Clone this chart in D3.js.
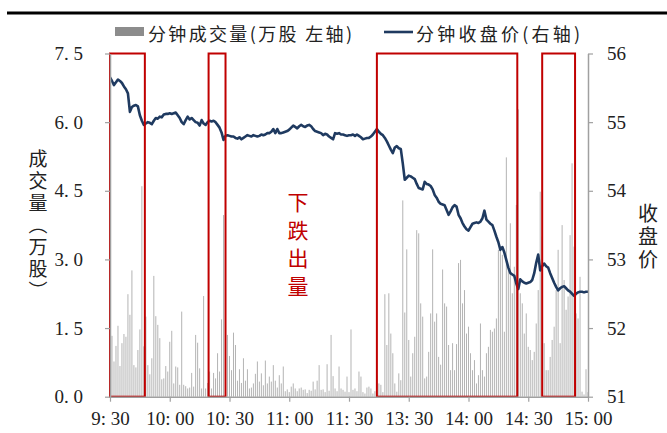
<!DOCTYPE html>
<html>
<head>
<meta charset="utf-8">
<script src="https://cdn.jsdelivr.net/npm/d3@7"></script>
<style>
  body { margin: 0; background: #fff; }
  svg { display: block; }
</style>
</head>
<body>
<svg id="chart" width="667" height="433"></svg>
<script>
// minute volume (万股), one value per trading minute, 9:30 .. 15:00
const volume = [
  1.35, 1.33, 0.77, 1.11, 1.55, 0.67, 1.17, 1.37, 1.31, 2.24,
  1.79, 2.76, 0.69, 0.64, 1.02, 1.47, 4.60, 1.10, 1.75, 0.69,
  0.49, 0.84, 2.64, 1.76, 1.57, 1.28, 0.38, 0.40, 0.67, 0.55,
  1.20, 1.44, 0.29, 0.66, 0.64, 0.26, 1.86, 0.26, 0.23, 0.18,
  0.20, 0.52, 0.22, 1.35, 1.18, 0.62, 0.18, 2.20, 0.18, 0.30,
  0.55, 0.18, 0.52, 0.40, 0.95, 0.55, 1.69, 3.97, 0.60, 1.35,
  0.89, 0.58, 1.40, 1.13, 0.35, 0.60, 0.30, 0.84, 0.35, 0.60,
  0.18, 0.20, 0.29, 0.50, 0.77, 0.33, 0.51, 0.25, 0.79, 0.29,
  0.44, 0.33, 0.69, 0.35, 0.20, 0.47, 0.29, 0.66, 0.12, 0.16,
  0.10, 0.22, 0.29, 0.18, 0.12, 0.18, 0.20, 0.15, 0.16, 0.08,
  0.15, 0.13, 0.33, 0.16, 0.35, 0.69, 0.15, 0.16, 0.10, 0.71,
  0.13, 1.35, 0.45, 0.18, 0.12, 0.66, 0.18, 0.15, 0.11, 0.44,
  0.10, 1.47, 0.15, 0.18, 0.12, 0.55, 0.44, 0.10, 0.07, 0.20,
  0.22, 0.18, 0.07, 0.12, 0.47, 0.29, 0.26, 0.10, 2.24, 1.13,
  2.26, 1.38, 0.95, 0.29, 0.11, 0.51, 0.36, 4.29, 1.84, 3.22,
  1.24, 0.44, 0.95, 1.31, 3.64, 3.57, 2.04, 1.75, 0.40, 0.44,
  0.98, 1.82, 3.22, 1.64, 1.82, 0.87, 0.70, 2.78, 2.04, 1.97,
  1.13, 0.58, 1.17, 0.58, 1.15, 2.92, 2.99, 2.04, 2.33, 1.38,
  1.53, 0.95, 0.58, 0.80, 0.29, 0.47, 1.60, 0.58, 0.44, 0.95,
  1.09, 1.46, 1.42, 1.49, 1.71, 3.21, 3.28, 3.10, 1.42, 5.23,
  2.81, 3.79, 2.26, 2.84, 4.19, 6.28, 2.26, 2.04, 1.38, 1.82,
  1.09, 1.02, 0.80, 0.98, 1.60, 2.33, 4.48, 3.50, 1.17, 0.58,
  0.58, 0.87, 1.24, 1.53, 2.33, 3.21, 1.17, 3.75, 2.55, 1.90,
  2.19, 3.53, 5.10, 3.28, 1.82, 1.71, 2.62, 0.11, 0.05, 0.60,
  0.10
];

// minute close price (右轴)
const price = [
  55.65, 55.60, 55.54, 55.58, 55.62, 55.60, 55.57, 55.52, 55.48, 55.42,
  55.15, 55.22, 55.24, 55.25, 55.23, 55.10, 55.02, 54.96, 54.98, 55.00,
  54.99, 54.97, 55.02, 55.06, 55.05, 55.08, 55.07, 55.11, 55.12, 55.12,
  55.13, 55.12, 55.13, 55.14, 55.10, 55.06, 55.00, 54.97, 55.03, 55.08,
  55.04, 55.06, 55.03, 55.00, 54.99, 54.95, 55.03, 54.98, 54.96, 55.00,
  55.02, 55.01, 55.02, 55.00, 54.96, 54.92, 54.85, 54.74, 54.80, 54.81,
  54.80, 54.79, 54.79, 54.77, 54.76, 54.78, 54.75, 54.77, 54.79, 54.81,
  54.80, 54.79, 54.81, 54.80, 54.79, 54.80, 54.82, 54.81, 54.82, 54.84,
  54.84, 54.86, 54.90, 54.84, 54.90, 54.84, 54.84, 54.85, 54.86, 54.87,
  54.89, 54.92, 54.95, 54.93, 54.91, 54.94, 54.96, 54.94, 54.93, 54.95,
  54.96, 54.94, 54.90, 54.87, 54.86, 54.85, 54.84, 54.81, 54.83, 54.82,
  54.79, 54.77, 54.75, 54.84, 54.83, 54.84, 54.82, 54.82, 54.81, 54.80,
  54.81, 54.81, 54.82, 54.80, 54.82, 54.80, 54.78, 54.75, 54.76, 54.77,
  54.77, 54.79, 54.82, 54.86, 54.90, 54.86, 54.83, 54.81, 54.77, 54.72,
  54.66, 54.60, 54.55, 54.63, 54.65, 54.62, 54.61, 54.40, 54.16, 54.19,
  54.22, 54.21, 54.19, 54.17, 54.10, 54.04, 54.03, 54.02, 54.13, 54.10,
  54.09, 54.07, 54.02, 53.94, 53.90, 53.84, 53.81, 53.80, 53.79, 53.72,
  53.65, 53.70, 53.76, 53.79, 53.77, 53.65, 53.60, 53.53, 53.48, 53.44,
  53.42, 53.47, 53.52, 53.53, 53.54, 53.53, 53.55, 53.60, 53.71, 53.58,
  53.55, 53.52, 53.50, 53.42, 53.33, 53.25, 53.14, 53.18, 53.10, 52.99,
  52.88, 52.80, 52.78, 52.76, 52.65, 52.57, 52.71, 52.68, 52.66, 52.65,
  52.66, 52.67, 52.70, 52.80, 52.95, 53.07, 52.84, 52.90, 52.94, 52.90,
  52.88, 52.80, 52.73, 52.66, 52.60, 52.55, 52.58, 52.60, 52.61, 52.58,
  52.55, 52.53, 52.50, 52.47, 52.50, 52.52, 52.53, 52.53, 52.52, 52.53,
  52.53
];

const timeTicks = [0, 30, 60, 90, 120, 150, 180, 210, 240];
const timeLabels = ["9: 30", "10: 00", "10: 30", "11: 00", "11: 30", "13: 30", "14: 00", "14: 30", "15: 00"];
const volTicks = [0, 1.5, 3.0, 4.5, 6.0, 7.5];
const volLabels = ["0. 0", "1. 5", "3. 0", "4. 5", "6. 0", "7. 5"];
const priceTicks = [51, 52, 53, 54, 55, 56];

// highlighted "下跌出量" windows, in minute index
const boxes = [[0, 17.5], [49.5, 58], [134, 204.5], [217, 233.5]];

const legendNames = ["分钟成交量(万股 左轴)", "分钟收盘价(右轴)"];
const leftTitle = "成交量（万股）";
const rightTitle = "收盘价";
const note = "下跌出量";

const svg = d3.select("#chart");
const numFont = "'Liberation Serif', 'Times New Roman', serif";
const cjkFont = "'Noto Sans CJK SC', sans-serif";

const x = d3.scaleLinear().domain([0, 240]).range([110, 588]);
const yVol = d3.scaleLinear().domain([0, 7.5]).range([396.7, 53.5]);
const yPx = d3.scaleLinear().domain([51, 56]).range([396.7, 53.5]);

// top rule
svg.append("line")
    .attr("x1", 7).attr("x2", 667).attr("y1", 13).attr("y2", 13)
    .attr("stroke", "#000").attr("stroke-width", 3);

// bars
svg.append("g").selectAll("rect").data(volume).join("rect")
    .attr("x", (d, i) => x(i) - 0.5)
    .attr("width", 1)
    .attr("y", d => yVol(d))
    .attr("height", d => yVol(0) - yVol(d))
    .attr("fill", "#b4b4b4");

// price line
let line = d3.line().x((d, i) => x(i)).y(d => yPx(d));
svg.append("path").datum(price)
    .attr("d", line)
    .attr("fill", "none")
    .attr("stroke", "#1f3a60")
    .attr("stroke-width", 2.6)
    .attr("stroke-linejoin", "round");

// red boxes
svg.append("g").selectAll("rect").data(boxes).join("rect")
    .attr("x", d => x(d[0]))
    .attr("width", d => x(d[1]) - x(d[0]))
    .attr("y", yVol(7.5))
    .attr("height", yVol(0) - yVol(7.5))
    .attr("fill", "none")
    .attr("stroke", "#c00000")
    .attr("stroke-width", 2);

function styleAxis(g) {
    g.select(".domain").attr("stroke", "#a0a0a0").attr("stroke-width", 1.5);
    g.selectAll(".tick line").attr("stroke", "#a0a0a0").attr("stroke-width", 1.2);
    g.selectAll("text").attr("font-family", numFont).attr("font-size", 19).attr("fill", "#222");
}

svg.append("g")
    .attr("transform", "translate(110,0)")
    .call(d3.axisLeft(yVol).tickValues(volTicks).tickSize(5).tickSizeOuter(0).tickPadding(22)
        .tickFormat((d, i) => volLabels[i]))
    .call(styleAxis);

svg.append("g")
    .attr("transform", "translate(588,0)")
    .call(d3.axisRight(yPx).tickValues(priceTicks).tickSize(5).tickSizeOuter(0).tickPadding(14)
        .tickFormat(d3.format("d")))
    .call(styleAxis);

svg.append("g")
    .attr("transform", `translate(0,${yVol(0)})`)
    .call(d3.axisBottom(x).tickValues(timeTicks).tickSize(5).tickSizeOuter(0).tickPadding(10)
        .tickFormat((d, i) => timeLabels[i]))
    .call(styleAxis);

// legend
let legend = svg.append("g");
legend.append("rect").attr("x", 115).attr("y", 27).attr("width", 29).attr("height", 9).attr("fill", "#8c8c8c");
legend.append("text").attr("x", 148).attr("y", 33).attr("dominant-baseline", "central")
    .attr("font-family", cjkFont).attr("font-size", 18).attr("fill", "#222")
    .attr("textLength", 204).attr("lengthAdjust", "spacing")
    .text(legendNames[0]);
legend.append("line").attr("x1", 384).attr("x2", 413).attr("y1", 32).attr("y2", 32)
    .attr("stroke", "#1f3a60").attr("stroke-width", 2.6);
legend.append("text").attr("x", 416).attr("y", 33).attr("dominant-baseline", "central")
    .attr("font-family", cjkFont).attr("font-size", 18).attr("fill", "#222")
    .attr("textLength", 164).attr("lengthAdjust", "spacing")
    .text(legendNames[1]);

// axis titles, written top to bottom
svg.append("text")
    .attr("x", 38).attr("y", 149)
    .attr("writing-mode", "vertical-rl")
    .attr("letter-spacing", 3)
    .attr("font-family", cjkFont).attr("font-size", 19).attr("fill", "#222")
    .text(leftTitle);

svg.append("text")
    .attr("x", 648).attr("y", 203)
    .attr("writing-mode", "vertical-rl")
    .attr("letter-spacing", 3)
    .attr("font-family", cjkFont).attr("font-size", 20).attr("fill", "#222")
    .text(rightTitle);

// red annotation
svg.append("text")
    .attr("x", 298).attr("y", 192)
    .attr("writing-mode", "vertical-rl")
    .attr("letter-spacing", 7)
    .attr("font-family", cjkFont).attr("font-size", 21).attr("fill", "#c00000")
    .text(note);
</script>
</body>
</html>
